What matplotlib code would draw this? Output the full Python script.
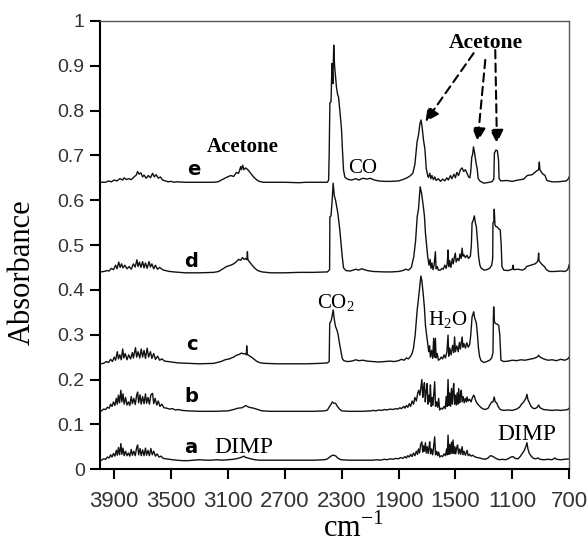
import matplotlib

matplotlib.use("Agg")

import matplotlib.pyplot as plt
from matplotlib.ticker import FixedLocator

# IR spectra (wavenumber cm-1, absorbance), offset traces a..e
trace_e = [
    (4000, 0.640), (3960, 0.640), (3940, 0.643), (3920, 0.641), (3900, 0.645), (3880, 0.643),
    (3860, 0.648), (3840, 0.645), (3830, 0.650), (3815, 0.646), (3800, 0.648), (3780, 0.646),
    (3760, 0.652), (3745, 0.656), (3735, 0.664), (3725, 0.658), (3712, 0.661), (3700, 0.652),
    (3690, 0.656), (3675, 0.649), (3660, 0.655), (3645, 0.650), (3630, 0.660), (3618, 0.652),
    (3605, 0.657), (3590, 0.649), (3575, 0.652), (3560, 0.645), (3540, 0.643), (3520, 0.641),
    (3500, 0.642), (3480, 0.640), (3460, 0.641), (3400, 0.640), (3300, 0.640), (3200, 0.640),
    (3170, 0.641), (3140, 0.646), (3110, 0.651), (3080, 0.655), (3060, 0.653), (3040, 0.662),
    (3025, 0.660), (3010, 0.675), (3005, 0.668), (2996, 0.678), (2988, 0.668), (2975, 0.672),
    (2960, 0.668), (2940, 0.660), (2920, 0.652), (2900, 0.646), (2880, 0.642), (2850, 0.640),
    (2700, 0.640), (2600, 0.639), (2550, 0.640), (2450, 0.640), (2400, 0.640), (2392, 0.645),
    (2388, 0.700), (2383, 0.817), (2375, 0.820), (2368, 0.905), (2362, 0.860), (2356, 0.946),
    (2350, 0.900), (2342, 0.870), (2336, 0.850), (2328, 0.835), (2322, 0.830), (2310, 0.790),
    (2301, 0.757), (2295, 0.715), (2287, 0.667), (2278, 0.652), (2265, 0.648), (2250, 0.646),
    (2230, 0.645), (2200, 0.648), (2180, 0.645), (2150, 0.649), (2120, 0.647), (2100, 0.649),
    (2070, 0.645), (2040, 0.643), (2000, 0.642), (1950, 0.642), (1900, 0.643), (1870, 0.646),
    (1840, 0.650), (1820, 0.654), (1800, 0.660), (1785, 0.680), (1770, 0.730), (1760, 0.745),
    (1750, 0.770), (1742, 0.779), (1735, 0.765), (1725, 0.735), (1715, 0.715), (1705, 0.670),
    (1695, 0.655), (1690, 0.651), (1680, 0.660), (1673, 0.648), (1665, 0.655), (1655, 0.646),
    (1645, 0.652), (1635, 0.644), (1620, 0.648), (1605, 0.642), (1590, 0.647), (1575, 0.643),
    (1560, 0.650), (1550, 0.645), (1535, 0.655), (1525, 0.648), (1510, 0.658), (1500, 0.650),
    (1490, 0.662), (1478, 0.655), (1465, 0.668), (1453, 0.672), (1442, 0.664), (1430, 0.668),
    (1418, 0.660), (1408, 0.652), (1398, 0.650), (1392, 0.665), (1385, 0.697), (1380, 0.700),
    (1373, 0.719), (1365, 0.705), (1355, 0.683), (1347, 0.670), (1340, 0.648), (1325, 0.642),
    (1300, 0.638), (1260, 0.640), (1240, 0.642), (1230, 0.648), (1226, 0.705), (1215, 0.712),
    (1205, 0.710), (1197, 0.690), (1193, 0.648), (1180, 0.643), (1140, 0.644), (1100, 0.642),
    (1060, 0.645), (1020, 0.647), (995, 0.655), (960, 0.657), (930, 0.665), (915, 0.668),
    (910, 0.685), (906, 0.668), (890, 0.660), (870, 0.655), (857, 0.644), (820, 0.641),
    (780, 0.641), (750, 0.642), (720, 0.643), (705, 0.648), (700, 0.652),
]

trace_d = [
    (4000, 0.440), (3970, 0.441), (3950, 0.443), (3935, 0.442), (3920, 0.448), (3905, 0.445),
    (3890, 0.455), (3880, 0.447), (3868, 0.462), (3858, 0.450), (3848, 0.458), (3838, 0.449),
    (3825, 0.455), (3810, 0.447), (3795, 0.452), (3780, 0.446), (3765, 0.458), (3752, 0.451),
    (3740, 0.467), (3732, 0.452), (3722, 0.462), (3712, 0.450), (3700, 0.463), (3690, 0.449),
    (3680, 0.460), (3668, 0.448), (3655, 0.463), (3645, 0.451), (3635, 0.458), (3622, 0.447),
    (3610, 0.455), (3595, 0.446), (3580, 0.450), (3560, 0.445), (3540, 0.443), (3510, 0.441),
    (3480, 0.440), (3400, 0.438), (3300, 0.438), (3200, 0.439), (3165, 0.441), (3140, 0.446),
    (3110, 0.452), (3080, 0.455), (3060, 0.458), (3040, 0.463), (3025, 0.468), (3010, 0.466),
    (2998, 0.472), (2985, 0.468), (2975, 0.470), (2966, 0.467), (2963, 0.485), (2960, 0.468),
    (2950, 0.463), (2930, 0.455), (2910, 0.448), (2890, 0.443), (2860, 0.440), (2800, 0.438),
    (2700, 0.438), (2600, 0.439), (2500, 0.439), (2400, 0.440), (2385, 0.445), (2383, 0.563),
    (2375, 0.565), (2367, 0.600), (2360, 0.638), (2352, 0.610), (2343, 0.600), (2335, 0.585),
    (2327, 0.571), (2313, 0.533), (2305, 0.505), (2296, 0.474), (2287, 0.449), (2270, 0.443),
    (2240, 0.442), (2200, 0.446), (2180, 0.444), (2160, 0.447), (2140, 0.445), (2120, 0.443),
    (2080, 0.441), (2000, 0.440), (1950, 0.440), (1900, 0.441), (1870, 0.443), (1850, 0.446),
    (1830, 0.444), (1810, 0.450), (1793, 0.474), (1780, 0.510), (1769, 0.563), (1760, 0.580),
    (1748, 0.630), (1738, 0.615), (1727, 0.589), (1718, 0.565), (1711, 0.527), (1703, 0.500),
    (1695, 0.474), (1686, 0.455), (1678, 0.468), (1672, 0.448), (1665, 0.460), (1658, 0.445),
    (1650, 0.455), (1641, 0.485), (1636, 0.447), (1628, 0.452), (1620, 0.444), (1606, 0.444),
    (1595, 0.448), (1585, 0.446), (1575, 0.455), (1565, 0.448), (1557, 0.460), (1552, 0.489),
    (1547, 0.452), (1540, 0.465), (1532, 0.450), (1522, 0.470), (1515, 0.458), (1508, 0.472),
    (1501, 0.482), (1495, 0.462), (1485, 0.470), (1475, 0.465), (1468, 0.480), (1460, 0.470),
    (1453, 0.493), (1447, 0.475), (1440, 0.478), (1430, 0.472), (1418, 0.477), (1408, 0.470),
    (1395, 0.475), (1388, 0.500), (1383, 0.549), (1375, 0.555), (1367, 0.565), (1360, 0.550),
    (1353, 0.541), (1345, 0.510), (1337, 0.474), (1328, 0.455), (1320, 0.449), (1300, 0.444),
    (1280, 0.445), (1260, 0.448), (1245, 0.455), (1238, 0.470), (1236, 0.549), (1230, 0.553),
    (1227, 0.580), (1222, 0.545), (1215, 0.541), (1208, 0.541), (1195, 0.536), (1185, 0.534),
    (1178, 0.500), (1173, 0.452), (1160, 0.444), (1130, 0.443), (1100, 0.446), (1095, 0.455),
    (1090, 0.445), (1060, 0.446), (1030, 0.444), (1010, 0.447), (1000, 0.452), (970, 0.455),
    (940, 0.458), (925, 0.462), (918, 0.468), (915, 0.482), (912, 0.465), (895, 0.458),
    (875, 0.452), (860, 0.445), (840, 0.441), (800, 0.441), (760, 0.442), (730, 0.441),
    (710, 0.445), (700, 0.456),
]

trace_c = [
    (4000, 0.235), (3975, 0.236), (3955, 0.240), (3940, 0.238), (3925, 0.245), (3912, 0.240),
    (3900, 0.250), (3890, 0.243), (3878, 0.262), (3870, 0.246), (3860, 0.255), (3850, 0.244),
    (3840, 0.268), (3832, 0.248), (3822, 0.258), (3810, 0.244), (3798, 0.255), (3785, 0.246),
    (3772, 0.260), (3765, 0.248), (3750, 0.271), (3742, 0.250), (3732, 0.262), (3720, 0.248),
    (3710, 0.268), (3700, 0.250), (3690, 0.265), (3680, 0.247), (3668, 0.270), (3658, 0.250),
    (3645, 0.262), (3635, 0.247), (3622, 0.258), (3610, 0.245), (3595, 0.252), (3580, 0.243),
    (3565, 0.246), (3545, 0.241), (3520, 0.240), (3500, 0.239), (3450, 0.237), (3380, 0.236),
    (3300, 0.235), (3200, 0.236), (3150, 0.240), (3120, 0.244), (3090, 0.246), (3060, 0.250),
    (3040, 0.254), (3020, 0.256), (3005, 0.259), (2990, 0.257), (2980, 0.258), (2970, 0.255),
    (2968, 0.275), (2965, 0.256), (2950, 0.253), (2935, 0.250), (2915, 0.245), (2895, 0.240),
    (2870, 0.237), (2840, 0.236), (2750, 0.235), (2650, 0.235), (2550, 0.235), (2450, 0.236),
    (2400, 0.237), (2388, 0.240), (2384, 0.326), (2375, 0.330), (2368, 0.340), (2360, 0.355),
    (2350, 0.330), (2343, 0.318), (2333, 0.310), (2325, 0.300), (2315, 0.280), (2305, 0.262),
    (2296, 0.247), (2285, 0.242), (2260, 0.240), (2230, 0.241), (2200, 0.244), (2180, 0.242),
    (2150, 0.243), (2120, 0.241), (2080, 0.240), (2040, 0.239), (2000, 0.240), (1960, 0.241),
    (1930, 0.240), (1900, 0.242), (1880, 0.245), (1860, 0.243), (1845, 0.248), (1830, 0.246),
    (1815, 0.252), (1805, 0.258), (1795, 0.270), (1783, 0.300), (1769, 0.355), (1760, 0.380),
    (1750, 0.410), (1743, 0.431), (1736, 0.420), (1727, 0.392), (1718, 0.360), (1711, 0.321),
    (1703, 0.300), (1695, 0.280), (1688, 0.262), (1682, 0.275), (1676, 0.250), (1668, 0.265),
    (1660, 0.247), (1653, 0.292), (1648, 0.250), (1641, 0.292), (1636, 0.248), (1628, 0.258),
    (1620, 0.243), (1610, 0.245), (1600, 0.250), (1590, 0.246), (1580, 0.255), (1570, 0.248),
    (1560, 0.262), (1552, 0.299), (1547, 0.252), (1540, 0.270), (1530, 0.255), (1520, 0.276),
    (1512, 0.260), (1506, 0.295), (1500, 0.262), (1490, 0.275), (1480, 0.262), (1472, 0.283),
    (1465, 0.268), (1453, 0.295), (1447, 0.272), (1440, 0.280), (1430, 0.270), (1420, 0.282),
    (1410, 0.272), (1400, 0.278), (1392, 0.300), (1383, 0.340), (1377, 0.345), (1372, 0.351),
    (1365, 0.338), (1353, 0.326), (1345, 0.300), (1338, 0.270), (1330, 0.251), (1320, 0.242),
    (1300, 0.238), (1280, 0.240), (1260, 0.243), (1245, 0.248), (1236, 0.260), (1233, 0.340),
    (1231, 0.362), (1226, 0.330), (1220, 0.325), (1210, 0.324), (1196, 0.321), (1188, 0.300),
    (1180, 0.243), (1160, 0.240), (1130, 0.241), (1100, 0.243), (1070, 0.242), (1040, 0.244),
    (1010, 0.243), (980, 0.245), (950, 0.247), (925, 0.250), (915, 0.254), (905, 0.250),
    (880, 0.246), (850, 0.243), (820, 0.244), (790, 0.242), (760, 0.245), (730, 0.243),
    (710, 0.246), (700, 0.250),
]

trace_b = [
    (4000, 0.128), (3990, 0.130), (3975, 0.134), (3960, 0.133), (3948, 0.138), (3935, 0.136),
    (3925, 0.145), (3915, 0.140), (3905, 0.150), (3895, 0.142), (3885, 0.158), (3878, 0.145),
    (3870, 0.165), (3862, 0.148), (3853, 0.176), (3846, 0.150), (3838, 0.168), (3830, 0.145),
    (3820, 0.160), (3810, 0.143), (3800, 0.150), (3790, 0.142), (3780, 0.162), (3772, 0.146),
    (3762, 0.158), (3752, 0.144), (3742, 0.165), (3735, 0.172), (3728, 0.148), (3718, 0.166),
    (3710, 0.145), (3700, 0.162), (3690, 0.146), (3680, 0.168), (3672, 0.147), (3662, 0.160),
    (3652, 0.145), (3642, 0.166), (3630, 0.169), (3622, 0.146), (3612, 0.158), (3600, 0.143),
    (3590, 0.152), (3578, 0.140), (3565, 0.145), (3550, 0.137), (3530, 0.136), (3510, 0.134),
    (3490, 0.135), (3470, 0.132), (3450, 0.133), (3420, 0.131), (3380, 0.130), (3300, 0.129),
    (3200, 0.129), (3100, 0.130), (3060, 0.133), (3030, 0.136), (3000, 0.137), (2985, 0.140),
    (2975, 0.142), (2965, 0.140), (2950, 0.138), (2920, 0.136), (2890, 0.133), (2860, 0.130),
    (2800, 0.129), (2700, 0.129), (2600, 0.129), (2500, 0.129), (2420, 0.130), (2400, 0.132),
    (2385, 0.140), (2372, 0.146), (2366, 0.150), (2355, 0.147), (2343, 0.147), (2330, 0.140),
    (2315, 0.134), (2300, 0.130), (2250, 0.129), (2200, 0.129), (2150, 0.129), (2100, 0.130),
    (2074, 0.131), (2060, 0.130), (2040, 0.132), (2020, 0.131), (2000, 0.133), (1980, 0.132),
    (1960, 0.134), (1940, 0.133), (1920, 0.135), (1905, 0.134), (1890, 0.137), (1880, 0.135),
    (1864, 0.140), (1855, 0.136), (1845, 0.142), (1835, 0.138), (1825, 0.146), (1815, 0.140),
    (1805, 0.152), (1795, 0.145), (1785, 0.160), (1775, 0.152), (1765, 0.170), (1758, 0.176),
    (1750, 0.165), (1742, 0.185), (1736, 0.200), (1730, 0.160), (1724, 0.180), (1718, 0.193),
    (1712, 0.150), (1706, 0.172), (1699, 0.191), (1693, 0.145), (1687, 0.165), (1681, 0.150),
    (1676, 0.188), (1670, 0.140), (1664, 0.160), (1658, 0.142), (1652, 0.168), (1646, 0.195),
    (1640, 0.140), (1632, 0.150), (1625, 0.138), (1618, 0.158), (1611, 0.132), (1600, 0.136),
    (1590, 0.134), (1580, 0.140), (1571, 0.135), (1565, 0.162), (1558, 0.140), (1552, 0.200),
    (1546, 0.142), (1540, 0.170), (1534, 0.140), (1528, 0.180), (1522, 0.145), (1517, 0.175),
    (1512, 0.191), (1506, 0.145), (1500, 0.165), (1494, 0.143), (1488, 0.170), (1482, 0.145),
    (1477, 0.180), (1470, 0.148), (1464, 0.165), (1459, 0.176), (1453, 0.150), (1446, 0.162),
    (1438, 0.148), (1430, 0.158), (1422, 0.150), (1418, 0.161), (1410, 0.152), (1400, 0.156),
    (1390, 0.150), (1380, 0.160), (1372, 0.165), (1367, 0.163), (1360, 0.155), (1350, 0.148),
    (1340, 0.144), (1325, 0.139), (1310, 0.135), (1290, 0.133), (1270, 0.136), (1255, 0.145),
    (1245, 0.150), (1236, 0.150), (1227, 0.161), (1220, 0.150), (1210, 0.148), (1200, 0.140),
    (1185, 0.133), (1160, 0.131), (1130, 0.132), (1100, 0.131), (1070, 0.134), (1050, 0.138),
    (1035, 0.145), (1020, 0.150), (1005, 0.158), (997, 0.167), (990, 0.155), (980, 0.148),
    (968, 0.140), (955, 0.136), (940, 0.135), (925, 0.138), (915, 0.143), (905, 0.137),
    (880, 0.133), (850, 0.132), (820, 0.131), (790, 0.132), (760, 0.131), (730, 0.132),
    (710, 0.133), (700, 0.136),
]

trace_a = [
    (4000, 0.018), (3990, 0.020), (3975, 0.023), (3960, 0.022), (3948, 0.027), (3935, 0.025),
    (3925, 0.032), (3915, 0.027), (3905, 0.035), (3895, 0.029), (3885, 0.042), (3878, 0.031),
    (3870, 0.048), (3862, 0.032), (3853, 0.057), (3846, 0.033), (3838, 0.047), (3830, 0.030),
    (3820, 0.040), (3810, 0.030), (3800, 0.036), (3790, 0.029), (3780, 0.044), (3772, 0.031),
    (3762, 0.040), (3752, 0.030), (3742, 0.048), (3735, 0.054), (3728, 0.032), (3718, 0.046),
    (3710, 0.030), (3700, 0.043), (3690, 0.030), (3680, 0.047), (3672, 0.031), (3662, 0.042),
    (3652, 0.030), (3642, 0.046), (3632, 0.032), (3622, 0.040), (3610, 0.029), (3598, 0.034),
    (3585, 0.027), (3570, 0.029), (3555, 0.024), (3535, 0.023), (3515, 0.022), (3490, 0.021),
    (3460, 0.020), (3420, 0.019), (3380, 0.019), (3340, 0.020), (3300, 0.021), (3260, 0.020),
    (3220, 0.020), (3180, 0.021), (3140, 0.020), (3100, 0.021), (3060, 0.022), (3030, 0.024),
    (3000, 0.027), (2987, 0.029), (2975, 0.026), (2960, 0.025), (2940, 0.023), (2910, 0.021),
    (2880, 0.020), (2800, 0.020), (2700, 0.020), (2600, 0.020), (2500, 0.020), (2420, 0.021),
    (2400, 0.023), (2380, 0.028), (2365, 0.031), (2355, 0.031), (2340, 0.029), (2325, 0.024),
    (2305, 0.021), (2250, 0.020), (2150, 0.020), (2080, 0.020), (2050, 0.021), (2030, 0.020),
    (2000, 0.022), (1980, 0.021), (1960, 0.023), (1940, 0.022), (1920, 0.024), (1900, 0.023),
    (1885, 0.026), (1870, 0.024), (1855, 0.028), (1845, 0.025), (1835, 0.030), (1825, 0.027),
    (1815, 0.033), (1805, 0.028), (1795, 0.036), (1785, 0.030), (1775, 0.040), (1767, 0.033),
    (1760, 0.045), (1752, 0.036), (1745, 0.055), (1736, 0.061), (1730, 0.038), (1724, 0.052),
    (1718, 0.040), (1711, 0.059), (1705, 0.036), (1698, 0.050), (1692, 0.035), (1686, 0.048),
    (1681, 0.061), (1675, 0.034), (1668, 0.045), (1660, 0.032), (1654, 0.048), (1646, 0.072),
    (1640, 0.032), (1632, 0.040), (1625, 0.030), (1618, 0.038), (1610, 0.027), (1600, 0.030),
    (1590, 0.028), (1580, 0.034), (1570, 0.030), (1562, 0.045), (1557, 0.032), (1552, 0.076),
    (1546, 0.033), (1540, 0.055), (1534, 0.034), (1528, 0.060), (1522, 0.035), (1517, 0.065),
    (1510, 0.035), (1504, 0.050), (1498, 0.034), (1491, 0.048), (1485, 0.054), (1478, 0.034),
    (1470, 0.045), (1463, 0.033), (1453, 0.050), (1447, 0.032), (1440, 0.040), (1430, 0.031),
    (1418, 0.042), (1410, 0.030), (1400, 0.033), (1390, 0.029), (1380, 0.031), (1365, 0.028),
    (1350, 0.026), (1330, 0.025), (1310, 0.023), (1290, 0.022), (1270, 0.025), (1255, 0.030),
    (1240, 0.029), (1225, 0.026), (1210, 0.023), (1190, 0.021), (1170, 0.022), (1150, 0.021),
    (1130, 0.023), (1110, 0.027), (1095, 0.028), (1080, 0.024), (1060, 0.023), (1045, 0.028),
    (1030, 0.035), (1015, 0.042), (1005, 0.050), (997, 0.059), (990, 0.045), (980, 0.035),
    (965, 0.028), (950, 0.024), (935, 0.023), (920, 0.025), (905, 0.022), (880, 0.021),
    (850, 0.022), (820, 0.021), (800, 0.025), (790, 0.022), (760, 0.021), (730, 0.022),
    (700, 0.023),
]

traces = [trace_a, trace_b, trace_c, trace_d, trace_e]

x_ticks = [3900, 3500, 3100, 2700, 2300, 1900, 1500, 1100, 700]
y_ticks = [0, 0.1, 0.2, 0.3, 0.4, 0.5, 0.6, 0.7, 0.8, 0.9, 1]
y_tick_labels = ["0", "0.1", "0.2", "0.3", "0.4", "0.5", "0.6", "0.7", "0.8", "0.9", "1"]

# trace letters: (text, wavenumber, absorbance at baseline of the glyph)
letters = [("e", 3342, 0.656), ("d", 3361, 0.450), ("c", 3356, 0.266),
           ("b", 3356, 0.150), ("a", 3361, 0.035)]

# dashed arrows from the upper "Acetone" label: (start wn, start abs, tip wn, tip abs)
arrows = [(1372, 0.928, 1711, 0.775), (1290, 0.913, 1344, 0.731), (1220, 0.935, 1208, 0.727)]

plt.rcParams["mathtext.fontset"] = "custom"
plt.rcParams["mathtext.rm"] = "Liberation Serif"

fig = plt.figure(figsize=(5.88, 5.5), dpi=100)
ax = fig.add_axes([0.170, 0.147, 0.798, 0.815])

for tr in traces:
    wn, ab = zip(*tr)
    ax.plot(wn, ab, color="#111111", lw=1.0)

ax.set_xlim(4000, 700)
ax.set_ylim(0, 1)
ax.xaxis.set_major_locator(FixedLocator(x_ticks))
ax.set_xticklabels([str(t) for t in x_ticks], fontsize=16, family="Liberation Sans", color="#333333")
ax.set_yticks(y_ticks)
ax.set_yticklabels(y_tick_labels, fontsize=14, family="Liberation Sans", color="#333333")
ax.tick_params(axis="x", direction="out", length=7, width=1.5, pad=9)
ax.tick_params(axis="y", direction="out", length=7, width=1.5, pad=4)

for side in ("left", "bottom"):
    ax.spines[side].set_linewidth(1.5)
    ax.spines[side].set_color("black")
for side in ("top", "right"):
    ax.spines[side].set_linewidth(1.0)
    ax.spines[side].set_color("#555555")

ax.set_ylabel("Absorbance", fontsize=22, family="Liberation Serif")
ax.yaxis.set_label_coords(-0.135, 0.44)
ax.set_xlabel("cm$^{-1}$", fontsize=22, family="Liberation Serif")
ax.xaxis.set_label_coords(0.54, -0.098)

for txt, x, y in letters:
    ax.text(x, y, txt, fontsize=14, fontweight="bold", family="DejaVu Sans",
            ha="center", va="baseline")

serif = "Liberation Serif"
ax.text(2991, 0.036, "DIMP", fontsize=17, family=serif, ha="center", va="baseline")
ax.text(997, 0.065, "DIMP", fontsize=17, family=serif, ha="center", va="baseline")
ax.text(2996, 0.708, "Acetone", fontsize=15, fontweight="bold", family=serif,
        ha="center", va="baseline")
ax.text(1288, 0.939, "Acetone", fontsize=15.5, fontweight="bold", family=serif,
        ha="center", va="baseline")
ax.text(2156, 0.661, "CO", fontsize=15, family=serif, ha="center", va="baseline")
ax.text(2343, 0.359, "CO$_2$", fontsize=15, family=serif, ha="center", va="baseline")
ax.text(1557, 0.321, "H$_2$O", fontsize=15, family=serif, ha="center", va="baseline")

for x0, y0, x1, y1 in arrows:
    ax.annotate("", xy=(x1, y1), xytext=(x0, y0),
                arrowprops=dict(arrowstyle="-|>,head_length=0.8,head_width=0.4",
                                linestyle=(0, (4, 2.5)), color="black", lw=1.5,
                                shrinkA=0, shrinkB=0))

fig.savefig("out.png", dpi=100)
